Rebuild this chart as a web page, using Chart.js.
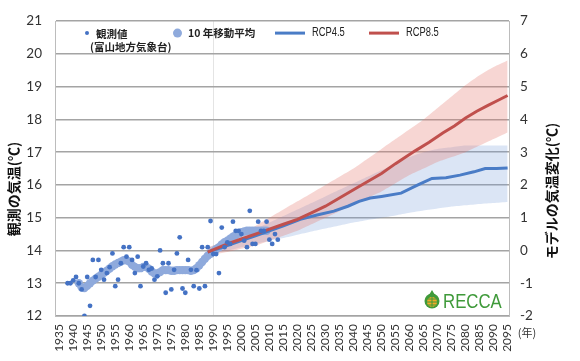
<!DOCTYPE html>
<html><head><meta charset="utf-8">
<script src="https://cdn.jsdelivr.net/npm/chart.js@4.4.0/dist/chart.umd.min.js"></script>
<style>html,body{margin:0;padding:0;background:#fff;} canvas{display:block}</style>
</head><body>
<canvas id="c" width="580" height="361"></canvas>
<script>
// ---- data ----
const obsYears = [1938,1939,1940,1941,1942,1943,1944,1945,1946,1947,1948,1949,1950,1951,1952,1953,1954,1955,1956,1957,1958,1959,1960,1961,1962,1963,1964,1965,1966,1967,1968,1969,1970,1971,1972,1973,1974,1975,1976,1977,1978,1979,1980,1981,1982,1983,1984,1985,1986,1987,1988,1989,1990,1991,1992,1993,1994,1995,1996,1997,1998,1999,2000,2001,2002,2003,2004,2005,2006,2007,2008,2009,2010,2011,2012,2013];
const obsTemps = [13.0,13.0,13.09,13.19,13.0,12.81,12.0,13.19,12.31,13.71,13.19,13.71,13.41,13.11,13.31,13.49,13.91,12.91,13.11,13.61,14.1,13.81,14.1,13.71,13.31,13.81,12.91,13.51,13.61,13.41,13.45,13.11,13.21,14.0,13.61,12.71,13.61,12.81,13.41,13.91,14.4,12.84,12.71,13.71,13.41,12.91,13.4,12.84,14.1,12.91,14.1,14.9,13.89,13.89,13.31,14.7,14.1,14.25,14.2,14.88,14.6,14.6,14.5,14.3,14.1,15.21,14.2,14.2,14.88,14.6,14.6,14.88,14.33,14.2,14.5,14.33];

const avgYears = [1942,1943,1944,1945,1946,1947,1948,1949,1950,1951,1952,1953,1954,1955,1956,1957,1958,1959,1960,1961,1962,1963,1964,1965,1966,1967,1968,1969,1970,1971,1972,1973,1974,1975,1976,1977,1978,1979,1980,1981,1982,1983,1984,1985,1986,1987,1988,1989,1990,1991,1992,1993,1994,1995,1996,1997,1998,1999,2000,2001,2002,2003,2004,2005,2006,2007,2008,2009];
const avgTemps = [13.0,12.88,12.85,12.92,13.0,13.08,13.14,13.2,13.26,13.32,13.38,13.45,13.52,13.57,13.62,13.66,13.7,13.7,13.66,13.56,13.5,13.46,13.46,13.5,13.5,13.44,13.36,13.3,13.3,13.34,13.4,13.4,13.4,13.38,13.38,13.4,13.4,13.4,13.4,13.4,13.38,13.4,13.46,13.55,13.65,13.75,13.84,13.9,13.96,14.04,14.1,14.18,14.25,14.3,14.36,14.42,14.47,14.52,14.56,14.58,14.6,14.6,14.6,14.6,14.6,14.6,14.6,14.6];

const rcp45Years = [1988,1995,2000,2005,2010,2015,2021,2027,2033,2038,2042,2046,2050,2057,2063,2068,2073,2078,2083,2087,2091,2095];
const rcp45Temps = [13.95,14.15,14.3,14.45,14.6,14.75,14.95,15.08,15.2,15.35,15.5,15.6,15.65,15.75,16.0,16.2,16.22,16.3,16.4,16.5,16.5,16.52];

const rcp85Years = [1988,1995,2000,2005,2010,2015,2020,2025,2030,2035,2042,2050,2055,2062,2067,2072,2076,2080,2084,2088,2092,2095];
const rcp85Temps = [13.95,14.2,14.35,14.5,14.65,14.8,14.95,15.15,15.35,15.6,15.95,16.35,16.65,17.04,17.3,17.59,17.8,18.04,18.25,18.43,18.6,18.73];

const bandYears = [1988,1995,2000,2005,2010,2015,2020,2025,2030,2035,2040,2045,2050,2055,2060,2065,2070,2075,2080,2085,2090,2095];
const rcp45High = [14.1,14.3,14.45,14.65,14.85,15.05,15.25,15.45,15.65,15.85,16.05,16.25,16.45,16.65,16.85,17.0,17.1,17.15,17.2,17.2,17.2,17.2];
const rcp45Low  = [13.9,14.0,14.1,14.2,14.3,14.38,14.48,14.58,14.67,14.76,14.85,14.93,15.0,15.07,15.15,15.22,15.28,15.34,15.38,15.42,15.45,15.48];
const rcp85High = [14.1,14.3,14.5,14.75,15.0,15.25,15.5,15.75,16.0,16.25,16.5,16.8,17.1,17.4,17.7,18.0,18.35,18.7,19.05,19.35,19.6,19.8];
const rcp85Low  = [13.85,13.95,14.05,14.15,14.3,14.45,14.6,14.8,15.0,15.2,15.4,15.6,15.8,16.05,16.3,16.5,16.7,16.85,17.0,17.2,17.4,17.6];

const xTickYears = [1935,1940,1945,1950,1955,1960,1965,1970,1975,1980,1985,1990,1995,2000,2005,2010,2015,2020,2025,2030,2035,2040,2045,2050,2055,2060,2065,2070,2075,2080,2085,2090,2095];
const leftTicks = [12,13,14,15,16,17,18,19,20,21];
const rightTicks = [-2,-1,0,1,2,3,4,5,6,7];

const legendLabels = ['観測値', '(富山地方気象台)', '10 年移動平均', 'RCP4.5', 'RCP8.5'];
const leftTitle = '観測の気温(℃)';
const rightTitle = 'モデルの気温変化(℃)';
const yearUnit = '(年)';
const logoText = 'RECCA';

// ---- styles ----
const OBS = '#4472C4', AVG = 'rgb(143,170,220)', BLUE = '#4a7cc6', RED = '#c0504d';
const toXY = (xs, ys) => xs.map((x, i) => ({x: x, y: ys[i]}));
const CJK = '"Noto Sans CJK JP", sans-serif';

const decorPlugin = {
  id: 'decor',
  afterDraw(chart) {
    const ctx = chart.ctx, a = chart.chartArea;
    ctx.save();
    ctx.textBaseline = 'middle';
    // legend
    const ly = a.top + 12;
    ctx.fillStyle = OBS;
    ctx.beginPath(); ctx.arc(a.left + 32, ly, 2, 0, Math.PI * 2); ctx.fill();
    ctx.fillStyle = '#222';
    ctx.font = 'bold 10.5px ' + CJK;
    ctx.textAlign = 'left';
    ctx.fillText(legendLabels[0], a.left + 41, ly + 1);
    ctx.font = 'bold 10.5px ' + CJK;
    ctx.fillText(legendLabels[1], a.left + 35, ly + 14);
    ctx.fillStyle = AVG;
    ctx.beginPath(); ctx.arc(a.left + 122.5, ly, 4.5, 0, Math.PI * 2); ctx.fill();
    ctx.fillStyle = '#222';
    ctx.fillText(legendLabels[2], a.left + 133, ly);
    ctx.lineWidth = 3; ctx.lineCap = 'butt';
    ctx.strokeStyle = BLUE;
    ctx.beginPath(); ctx.moveTo(a.left + 220, ly); ctx.lineTo(a.left + 250, ly); ctx.stroke();
    ctx.strokeStyle = RED;
    ctx.beginPath(); ctx.moveTo(a.left + 314, ly); ctx.lineTo(a.left + 344, ly); ctx.stroke();
    ctx.font = '12px "Liberation Sans", sans-serif';
    ctx.save(); ctx.translate(a.left + 257, ly); ctx.scale(0.78, 1); ctx.fillText(legendLabels[3], 0, 0); ctx.restore();
    ctx.save(); ctx.translate(a.left + 351, ly); ctx.scale(0.78, 1); ctx.fillText(legendLabels[4], 0, 0); ctx.restore();

    // axis titles
    ctx.fillStyle = '#111';
    ctx.textAlign = 'center';
    ctx.font = 'bold 14px ' + CJK;
    ctx.save(); ctx.translate(14, 189); ctx.rotate(-Math.PI / 2); ctx.fillText(leftTitle, 0, 0); ctx.restore();
    ctx.save(); ctx.translate(552, 191); ctx.rotate(-Math.PI / 2); ctx.fillText(rightTitle, 0, 0); ctx.restore();

    // year unit
    ctx.font = '11px ' + CJK;
    ctx.fillStyle = '#333';
    ctx.fillText(yearUnit, a.right + 18, a.bottom + 17);

    // logo
    const gx = a.right - 77, gy = a.bottom - 16;
    ctx.fillStyle = '#3f9a3a';
    ctx.beginPath(); ctx.arc(gx, gy + 1, 7.5, 0, Math.PI * 2); ctx.fill();
    ctx.beginPath(); ctx.moveTo(gx - 3, gy - 5); ctx.lineTo(gx, gy - 10); ctx.lineTo(gx + 3, gy - 5); ctx.fill();
    ctx.fillStyle = '#f2a928';
    ctx.beginPath(); ctx.arc(gx, gy + 2, 5, 0, Math.PI * 2); ctx.fill();
    ctx.strokeStyle = '#3f9a3a'; ctx.lineWidth = 1;
    ctx.beginPath();
    ctx.moveTo(gx - 5, gy + 2); ctx.lineTo(gx + 5, gy + 2);
    ctx.moveTo(gx, gy - 3); ctx.lineTo(gx, gy + 7);
    ctx.moveTo(gx - 4, gy - 1); ctx.lineTo(gx + 4, gy - 1);
    ctx.moveTo(gx - 4, gy + 5); ctx.lineTo(gx + 4, gy + 5);
    ctx.stroke();
    ctx.fillStyle = '#3f9a3a';
    ctx.textAlign = 'left';
    ctx.font = '20px "Liberation Sans", sans-serif';
    ctx.save(); ctx.translate(gx + 11, gy + 2); ctx.scale(0.84, 1); ctx.fillText(logoText, 0, 0); ctx.restore();
    ctx.restore();
  }
};

new Chart(document.getElementById('c'), {
  type: 'line',
  data: {
    datasets: [
      { label: legendLabels[0], data: toXY(obsYears, obsTemps), showLine: false,
        pointRadius: 2.4, pointBackgroundColor: OBS, pointBorderWidth: 0, borderColor: OBS },
      { label: legendLabels[4], data: toXY(rcp85Years, rcp85Temps), borderColor: RED, borderWidth: 3,
        pointRadius: 0, tension: 0, fill: false },
      { label: legendLabels[3], data: toXY(rcp45Years, rcp45Temps), borderColor: BLUE, borderWidth: 3,
        pointRadius: 0, tension: 0, fill: false },
      { label: legendLabels[2], data: toXY(avgYears, avgTemps), showLine: false,
        pointRadius: 4.2, pointBackgroundColor: AVG, pointBorderWidth: 0, borderColor: AVG },
      { label: 'rcp85High', data: toXY(bandYears, rcp85High), borderWidth: 0, pointRadius: 0,
        fill: '+1', backgroundColor: 'rgba(228,120,110,0.30)', tension: 0.2 },
      { label: 'rcp85Low', data: toXY(bandYears, rcp85Low), borderWidth: 0, pointRadius: 0, fill: false, tension: 0.2 },
      { label: 'rcp45High', data: toXY(bandYears, rcp45High), borderWidth: 0, pointRadius: 0,
        fill: '+1', backgroundColor: 'rgba(110,150,215,0.25)', tension: 0.2 },
      { label: 'rcp45Low', data: toXY(bandYears, rcp45Low), borderWidth: 0, pointRadius: 0, fill: false, tension: 0.2 }
    ]
  },
  options: {
    responsive: false,
    animation: false,
    devicePixelRatio: 1,
    layout: { padding: { top: 17, left: 0, right: 0, bottom: 0 } },
    plugins: { legend: { display: false }, tooltip: { enabled: false } },
    scales: {
      x: {
        type: 'linear', min: 1933.5, max: 2095.5,
        afterBuildTicks: s => { s.ticks = xTickYears.map(v => ({ value: v })); },
        afterFit: s => { s.height = 45; },
        ticks: { autoSkip: false, minRotation: 90, maxRotation: 90, padding: 8,
                 color: '#333', font: { family: 'Lato', size: 12 }, callback: v => String(v) },
        grid: { drawTicks: false, color: c => (c.tick && c.tick.value === 1990) ? '#e4e4e4' : 'rgba(0,0,0,0)' },
        border: { color: '#bcbcbc', width: 1 }
      },
      y: {
        position: 'left', min: leftTicks[0], max: leftTicks[leftTicks.length - 1],
        afterBuildTicks: s => { s.ticks = leftTicks.map(v => ({ value: v })); },
        afterFit: s => { s.width = 55; },
        ticks: { padding: 13, color: '#333', font: { family: 'Lato', size: 13.5 } },
        grid: { drawTicks: false, color: '#a4a4a4', lineWidth: 1.6 },
        border: { color: '#bcbcbc', width: 1 }
      },
      y2: {
        position: 'right', display: true, min: rightTicks[0], max: rightTicks[rightTicks.length - 1],
        afterBuildTicks: s => { s.ticks = rightTicks.map(v => ({ value: v })); },
        afterFit: s => { s.width = 71; },
        ticks: { padding: 11, color: '#333', font: { family: 'Lato', size: 13.5 } },
        grid: { drawTicks: false, drawOnChartArea: false },
        border: { color: '#bcbcbc', width: 1 }
      }
    }
  },
  plugins: [decorPlugin]
});
</script>
</body></html>
